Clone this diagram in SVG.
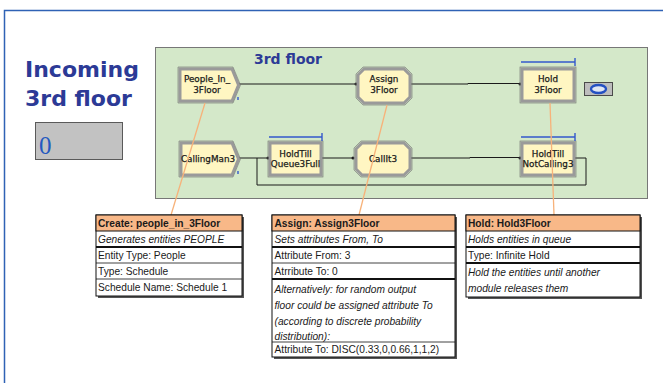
<svg xmlns="http://www.w3.org/2000/svg" width="663" height="383" viewBox="0 0 663 383">
  <style>
    .frame { fill: none; stroke: #2f62b5; stroke-width: 1.5; }
    .panel { fill: #d4e8c9; stroke: #777; stroke-width: 1; }
    .mod { fill: #fff6c2; stroke: #9a9a9a; stroke-width: 3; stroke-linejoin: miter; }
    .modedge { fill: none; stroke: #6e6e6e; stroke-width: 0.6; }
    .mtxt { font-family: "DejaVu Sans", sans-serif; font-size: 8.8px; fill: #1a1a1a; stroke: #1a1a1a; stroke-width: 0.25; text-anchor: middle; }
    .conn { fill: none; stroke: #1a1a1a; stroke-width: 1; }
    .dot { fill: #1a1a1a; }
    .queue { fill: none; stroke: #3358cc; stroke-width: 1.4; }
    .call { stroke: #f7b27a; stroke-width: 1.3; fill: none; }
    .shadow { fill: #555; }
    .cell { fill: #fff; stroke: #111; stroke-width: 1; }
    .head { fill: #f8b888; stroke: #111; stroke-width: 1; }
    .thick { stroke: #111; stroke-width: 2; }
    .thin { stroke: #111; stroke-width: 0.8; }
    .t { font-family: "Liberation Sans", Arial, sans-serif; font-size: 10.2px; fill: #1a1a1a; }
    .tb { font-weight: bold; }
    .ti { font-style: italic; }
    .big { font-family: "DejaVu Sans", Verdana, sans-serif; font-size: 22px; font-weight: bold; fill: #2c3a96; }
  </style>

  <!-- slide frame -->
  <path class="frame" d="M663,10.5 H4.5 V383"/>

  <!-- counter title and value box -->
  <g id="incoming-label">
    <text class="big" x="25" y="77">Incoming</text>
    <text class="big" x="25" y="106">3rd floor</text>
  </g>
  <g id="incoming-counter">
    <rect x="35.5" y="122.5" width="87" height="37" fill="#c2c2c2" stroke="#5a5a5a" stroke-width="1"/>
    <text x="39" y="153.5" font-family="Liberation Serif, serif" font-size="25" fill="#2459c0">0</text>
  </g>

  <!-- model area -->
  <g id="floor-panel">
    <rect class="panel" x="155.5" y="47.5" width="492" height="151"/>
    <text x="288" y="64" text-anchor="middle" font-family="DejaVu Sans, Verdana, sans-serif" font-size="14" font-weight="bold" fill="#2c3a96">3rd floor</text>
  </g>

  <!-- connectors -->
  <g id="connectors">
    <path class="conn" d="M239,84 H356"/>
    <circle class="dot" cx="356" cy="84" r="1.5"/>
    <path class="conn" d="M411,84 H468 V83.5 H520"/>
    <circle class="dot" cx="520" cy="84" r="1.5"/>
    <path class="conn" d="M239,158 H268"/>
    <circle class="dot" cx="268" cy="158" r="1.5"/>
    <path class="conn" d="M322,158 H353"/>
    <circle class="dot" cx="353" cy="158" r="1.5"/>
    <path class="conn" d="M411,158 H470 V157.5 H520"/>
    <circle class="dot" cx="520" cy="158" r="1.5"/>
    <path class="conn" d="M575,158 H586 V185 H257 V158"/>
  </g>

  <!-- modules -->
  <g id="people-in-3floor">
    <polygon class="mod" points="180,69 232,69 238.5,85 232,101 180,101"/>
    <polygon class="modedge" points="178,67 233,67 240.5,85 233,103 178,103"/>
    <text class="mtxt" x="207" y="82">People_In_</text>
    <text class="mtxt" x="207" y="92.5">3Floor</text>
    <path class="queue" d="M238,97 V100"/>
  </g>

  <g id="assign-3floor">
    <polygon class="mod" points="364,69 404,69 410,75 410,97 404,103 364,103 358,97 358,75"/>
    <polygon class="modedge" points="363,67 405,67 412,74 412,98 405,105 363,105 356,98 356,74"/>
    <text class="mtxt" x="384" y="82">Assign</text>
    <text class="mtxt" x="384" y="92.5">3Floor</text>
  </g>

  <g id="hold-3floor">
    <rect class="mod" x="522" y="69" width="52" height="32"/>
    <rect class="modedge" x="520" y="67" width="56" height="36"/>
    <text class="mtxt" x="548" y="82">Hold</text>
    <text class="mtxt" x="548" y="92.5">3Floor</text>
    <path class="queue" d="M521,62 H575 M575,58 V66"/>
  </g>

  <g id="status-indicator">
    <rect x="584.5" y="82.5" width="28" height="13" fill="#bdbdbd" stroke="#4a4a4a" stroke-width="1"/>
    <ellipse cx="598.5" cy="89" rx="7.5" ry="4" fill="#dfe5f3" stroke="#2450c2" stroke-width="2.4"/>
  </g>

  <g id="calling-man3">
    <polygon class="mod" points="181,143 232,143 238.5,159 232,175 181,175"/>
    <polygon class="modedge" points="179,141 233,141 240.5,159 233,177 179,177"/>
    <text class="mtxt" x="208" y="162">CallingMan3</text>
    <path class="queue" d="M238,171 V174"/>
  </g>

  <g id="holdtill-queue3full">
    <rect class="mod" x="270" y="143" width="51" height="32"/>
    <rect class="modedge" x="268" y="141" width="55" height="36"/>
    <text class="mtxt" x="295.5" y="156.5">HoldTill</text>
    <text class="mtxt" x="295.5" y="167">Queue3Full</text>
    <path class="queue" d="M269,137 H322 M322,133 V141"/>
  </g>

  <g id="callit3">
    <polygon class="mod" points="362,143 404,143 410,149 410,169 404,175 362,175 356,169 356,149"/>
    <polygon class="modedge" points="361,141 405,141 412,148 412,170 405,177 361,177 354,170 354,148"/>
    <text class="mtxt" x="383" y="162">CallIt3</text>
  </g>

  <g id="holdtill-notcalling3">
    <rect class="mod" x="522" y="143" width="52" height="32"/>
    <rect class="modedge" x="520" y="141" width="56" height="36"/>
    <text class="mtxt" x="548" y="156.5">HoldTill</text>
    <text class="mtxt" x="548" y="167">NotCalling3</text>
    <path class="queue" d="M521,137 H575 M575,133 V141"/>
  </g>

  <!-- callout leaders -->
  <g id="leaders">
    <line class="call" x1="205" y1="103" x2="171" y2="215"/>
    <line class="call" x1="387" y1="105" x2="359" y2="215"/>
    <line class="call" x1="550" y1="103" x2="554" y2="215"/>
  </g>

  <!-- Create description -->
  <g id="table-create">
    <rect class="shadow" x="98" y="217" width="146" height="81"/>
    <rect class="cell" x="96" y="215" width="146" height="81"/>
    <rect class="head" x="96" y="215" width="146" height="16"/>
    <line class="thick" x1="96" y1="247" x2="242" y2="247"/>
    <line class="thin" x1="96" y1="263" x2="242" y2="263"/>
    <line class="thin" x1="96" y1="279" x2="242" y2="279"/>
    <text class="t tb" x="98" y="226.5">Create: people_in_3Floor</text>
    <text class="t ti" x="98" y="242.5">Generates entities PEOPLE</text>
    <text class="t" x="98" y="258.5">Entity Type: People</text>
    <text class="t" x="98" y="274.5">Type: Schedule</text>
    <text class="t" x="98" y="290.5">Schedule Name: Schedule 1</text>
  </g>

  <!-- Assign description -->
  <g id="table-assign">
    <rect class="shadow" x="274" y="217" width="183" height="142"/>
    <rect class="cell" x="272" y="215" width="183" height="142"/>
    <rect class="head" x="272" y="215" width="183" height="16"/>
    <line class="thick" x1="272" y1="247" x2="455" y2="247"/>
    <line class="thin" x1="272" y1="263" x2="455" y2="263"/>
    <line class="thick" x1="272" y1="279" x2="455" y2="279"/>
    <line class="thin" x1="272" y1="342" x2="455" y2="342"/>
    <text class="t tb" x="274.5" y="226.5">Assign: Assign3Floor</text>
    <text class="t ti" x="274.5" y="242.5">Sets attributes From, To</text>
    <text class="t" x="274.5" y="258.5">Attribute From: 3</text>
    <text class="t" x="274.5" y="274.5">Atrribute To: 0</text>
    <text class="t ti" x="274.5" y="292.5">Alternatively: for random output</text>
    <text class="t ti" x="274.5" y="308.5">floor could be assigned attribute To</text>
    <text class="t ti" x="274.5" y="324.5">(according to discrete probability</text>
    <text class="t ti" x="274.5" y="339.5">distribution):</text>
    <text class="t" x="274.5" y="353">Attribute To: DISC(0.33,0,0.66,1,1,2)</text>
  </g>

  <!-- Hold description -->
  <g id="table-hold">
    <rect class="shadow" x="468" y="217" width="174" height="82"/>
    <rect class="cell" x="466" y="215" width="174" height="82"/>
    <rect class="head" x="466" y="215" width="174" height="16"/>
    <line class="thick" x1="466" y1="247" x2="640" y2="247"/>
    <line class="thick" x1="466" y1="263" x2="640" y2="263"/>
    <text class="t tb" x="468" y="226.5">Hold: Hold3Floor</text>
    <text class="t ti" x="468" y="242.5">Holds entities in queue</text>
    <text class="t" x="468" y="258.5">Type: Infinite Hold</text>
    <text class="t ti" x="468" y="275.5">Hold the entities until another</text>
    <text class="t ti" x="468" y="292">module releases them</text>
  </g>
</svg>
